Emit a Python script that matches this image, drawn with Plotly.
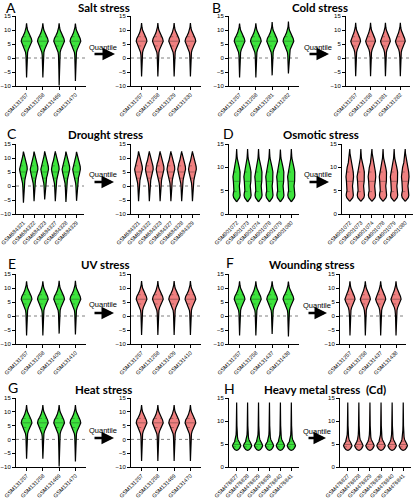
import numpy as np
import plotly.graph_objects as go

# ------------------------------------------------------------------ data
letters = ["A", "B", "C", "D", "E", "F", "G", "H"]
titles = ["Salt stress", "Cold stress", "Drought stress", "Osmotic stress",
          "UV stress", "Wounding stress", "Heat stress", "Heavy metal stress  (Cd)"]

samples_raw_A = ["GSM131257", "GSM131258", "GSM131469", "GSM131470"]
samples_qn_A = ["GSM131257", "GSM131258", "GSM131329", "GSM131330"]
samples_B = ["GSM131257", "GSM131258", "GSM131281", "GSM131282"]
samples_C = ["GSM684321", "GSM684322", "GSM684323", "GSM684327", "GSM684328", "GSM684329"]
samples_D = ["GSM901072", "GSM901073", "GSM901074", "GSM901078", "GSM901079", "GSM901080"]
samples_E = ["GSM131257", "GSM131258", "GSM131409", "GSM131410"]
samples_F = ["GSM131257", "GSM131258", "GSM131437", "GSM131438"]
samples_G = ["GSM131257", "GSM131258", "GSM131469", "GSM131470"]
samples_H = ["GSM476827", "GSM476828", "GSM476829", "GSM476839", "GSM476840", "GSM476841"]

# per-sample minimum / maximum log2 expression (raw, then after quantile normalisation)
min_raw_A = [-7.0, -7.0, -9.8, -8.2]
max_raw_A = [12.4, 12.4, 12.4, 12.3]
min_qn_A = [-6.6, -6.6, -6.6, -6.6]
max_qn_A = [12.5, 12.5, 12.5, 12.5]

min_raw_B = [-7.0, -7.0, -6.2, -5.5]
max_raw_B = [12.3, 12.4, 12.8, 13.0]
min_qn_B = [-6.5, -6.5, -6.5, -6.5]
max_qn_B = [12.6, 12.6, 12.6, 12.6]

min_raw_C = [-6.0, -5.4, -4.8, -5.4, -5.7, -5.3]
max_raw_C = [12.3, 12.3, 12.4, 12.4, 12.3, 12.2]
min_qn_C = [-5.4, -5.4, -5.4, -5.4, -5.4, -5.4]
max_qn_C = [12.4, 12.4, 12.4, 12.4, 12.4, 12.4]

min_raw_D = [2.6, 2.6, 2.6, 2.6, 2.6, 2.6]
max_raw_D = [13.9, 13.9, 13.9, 13.9, 13.8, 13.9]
min_qn_D = [2.7, 2.7, 2.7, 2.7, 2.7, 2.7]
max_qn_D = [13.9, 13.9, 13.9, 13.9, 13.9, 13.9]

min_raw_E = [-7.0, -7.0, -6.3, -6.6]
max_raw_E = [12.4, 12.4, 12.6, 12.6]
min_qn_E = [-6.8, -6.8, -6.8, -6.8]
max_qn_E = [12.5, 12.5, 12.5, 12.5]

min_raw_F = [-7.0, -7.0, -6.4, -7.3]
max_raw_F = [12.4, 12.4, 12.4, 12.3]
min_qn_F = [-7.0, -7.0, -7.0, -7.0]
max_qn_F = [12.4, 12.4, 12.4, 12.4]

min_raw_G = [-7.0, -7.0, -9.8, -8.0]
max_raw_G = [12.4, 12.4, 12.4, 12.4]
min_qn_G = [-7.8, -7.8, -7.8, -7.8]
max_qn_G = [12.4, 12.4, 12.4, 12.4]

min_raw_H = [3.6, 3.6, 3.6, 3.6, 3.6, 3.6]
max_raw_H = [14.0, 14.0, 14.0, 14.0, 14.0, 14.0]
min_qn_H = [3.6, 3.6, 3.6, 3.6, 3.6, 3.6]
max_qn_H = [14.0, 14.0, 14.0, 14.0, 14.0, 14.0]

# density profiles (log2 level, relative density)
prof_y_std = [-4, -2, 0, 1, 2, 3, 4, 5, 6, 7, 8, 9, 10, 11, 12]
prof_w_std = [0.05, 0.07, 0.09, 0.12, 0.19, 0.32, 0.55, 0.82, 1.0, 0.88, 0.6, 0.36, 0.18, 0.08, 0.03]
prof_y_C = [-4, -2, -1, 0, 1, 2, 3, 4, 5, 6, 7, 8, 9, 10, 11, 12]
prof_w_C = [0.06, 0.1, 0.13, 0.17, 0.24, 0.36, 0.5, 0.7, 0.9, 1.0, 0.95, 0.75, 0.5, 0.28, 0.12, 0.04]
prof_y_D = [3, 3.5, 4, 4.5, 5, 5.5, 6, 7, 8, 9, 10, 11, 12, 13]
prof_w_D = [0.35, 0.8, 0.95, 0.88, 0.74, 0.68, 0.72, 0.88, 1.0, 0.92, 0.7, 0.38, 0.14, 0.06]
prof_y_H = [3.8, 4.2, 4.6, 5.0, 5.5, 6, 6.5, 7, 8, 9, 10, 11, 12, 13]
prof_w_H = [0.45, 0.8, 1.0, 0.85, 0.5, 0.3, 0.2, 0.14, 0.09, 0.06, 0.05, 0.04, 0.035, 0.03]

# median and quartiles (log2)
quart_std = [4.3, 6.0, 7.6]
quart_C = [2.8, 5.0, 7.2]
quart_D = [4.8, 7.0, 9.0]
quart_H = [4.4, 4.9, 5.6]

yticks_neg = [-10, -5, 0, 5, 10, 15]
yticks_pos = [0, 5, 10, 15]

# ------------------------------------------------------------------ layout geometry (px)
W, H = 416, 500
GREEN = "#3de43d"
PINK = "#f08080"

panels = [
    (samples_raw_A, samples_qn_A, min_raw_A, max_raw_A, min_qn_A, max_qn_A, prof_y_std, prof_w_std, quart_std, [-10, 15], yticks_neg, 0.33),
    (samples_B, samples_B, min_raw_B, max_raw_B, min_qn_B, max_qn_B, prof_y_std, prof_w_std, quart_std, [-10, 15], yticks_neg, 0.33),
    (samples_C, samples_C, min_raw_C, max_raw_C, min_qn_C, max_qn_C, prof_y_C, prof_w_C, quart_C, [-10, 15], yticks_neg, 0.36),
    (samples_D, samples_D, min_raw_D, max_raw_D, min_qn_D, max_qn_D, prof_y_D, prof_w_D, quart_D, [0, 15], yticks_pos, 0.34),
    (samples_E, samples_E, min_raw_E, max_raw_E, min_qn_E, max_qn_E, prof_y_std, prof_w_std, quart_std, [-10, 15], yticks_neg, 0.33),
    (samples_F, samples_F, min_raw_F, max_raw_F, min_qn_F, max_qn_F, prof_y_std, prof_w_std, quart_std, [-10, 15], yticks_neg, 0.33),
    (samples_G, samples_G, min_raw_G, max_raw_G, min_qn_G, max_qn_G, prof_y_std, prof_w_std, quart_std, [-10, 15], yticks_neg, 0.33),
    (samples_H, samples_H, min_raw_H, max_raw_H, min_qn_H, max_qn_H, prof_y_H, prof_w_H, quart_H, [0, 15], yticks_pos, 0.38),
]

geo = [
    dict(xl=16, xr=131, wl=70, wr=70, yt=16, yb=86, tt=(104, 7), lt=(4, 7), qt=(103, 48), ar=(93, 115, 54)),
    dict(xl=229, xr=346, wl=70, wr=64, yt=16, yb=86, tt=(320, 7), lt=(210, 7), qt=(318, 48), ar=(308, 329, 54)),
    dict(xl=16, xr=131, wl=68, wr=69, yt=144, yb=214, tt=(105, 134), lt=(5, 133), qt=(103, 174), ar=(93, 114, 182)),
    dict(xl=229, xr=342, wl=70, wr=71, yt=144, yb=214, tt=(321, 134), lt=(221, 133), qt=(318, 174), ar=(308, 329, 182)),
    dict(xl=16, xr=131, wl=70, wr=70, yt=274, yb=344, tt=(105, 264), lt=(6, 263), qt=(103, 304), ar=(93, 114, 313)),
    dict(xl=229, xr=340, wl=70, wr=66, yt=274, yb=344, tt=(311, 264), lt=(224, 262), qt=(317, 305), ar=(307, 327, 313)),
    dict(xl=16, xr=131, wl=70, wr=70, yt=398, yb=467, tt=(103, 389), lt=(6, 387), qt=(103, 430), ar=(93, 114, 438)),
    dict(xl=229, xr=340, wl=70, wr=71, yt=398, yb=467, tt=(325, 389), lt=(222, 388), qt=(317, 431), ar=(307, 326, 438)),
]

fig = go.Figure()
layout = dict(width=W, height=H, autosize=False, margin=dict(l=0, r=0, t=0, b=0, pad=0, autoexpand=False),
              paper_bgcolor="white", plot_bgcolor="white", showlegend=False)
shapes = []
annotations = []
XTICKFONT = dict(family="Liberation Sans", size=5.5, color="black")
YTICKFONT = dict(family="Liberation Sans", size=6, color="black")

k = 0
for p, (pan, g) in enumerate(zip(panels, geo)):
    s_raw, s_qn, mnr, mxr, mnq, mxq, py, pw, quart, yr, yt, hw = pan
    for side in range(2):
        k += 1
        xn = "x" if k == 1 else f"x{k}"
        yn = "y" if k == 1 else f"y{k}"
        xkey = "xaxis" if k == 1 else f"xaxis{k}"
        ykey = "yaxis" if k == 1 else f"yaxis{k}"
        samples = s_raw if side == 0 else s_qn
        mins = mnr if side == 0 else mnq
        maxs = mxr if side == 0 else mxq
        color = GREEN if side == 0 else PINK
        n = len(samples)
        x0px = g["xl"] if side == 0 else g["xr"]
        wpx = g["wl"] if side == 0 else g["wr"]
        pad = 0.65 if n == 4 else 0.7
        layout[xkey] = dict(domain=[x0px / W, (x0px + wpx) / W], anchor=yn, automargin=False,
                            range=[-pad, n - 1 + pad], tickvals=list(range(n)), ticktext=samples,
                            tickangle=-45, tickfont=XTICKFONT, showline=True, linecolor="black",
                            linewidth=1, ticks="outside", ticklen=2.5, tickwidth=1, tickcolor="black",
                            showgrid=False, zeroline=False, fixedrange=True,
                            ticklabeloverflow="allow")
        layout[ykey] = dict(domain=[1 - g["yb"] / H, 1 - g["yt"] / H], anchor=xn, automargin=False,
                            range=yr, tickvals=yt, tickfont=YTICKFONT, showline=True,
                            linecolor="black", linewidth=1, ticks="outside", ticklen=3,
                            tickwidth=1, tickcolor="black", showgrid=False, zeroline=False,
                            fixedrange=True, ticklabeloverflow="allow")
        if yr[0] < 0:
            shapes.append(dict(type="line", xref=f"{xn} domain", yref=yn, x0=0, x1=1, y0=0, y1=0,
                               line=dict(color="#808080", width=1, dash="dot"), layer="below"))
        for i in range(n):
            ys = np.array([mins[i]] + list(py) + [maxs[i]], dtype=float)
            ws = np.array([0.0] + list(pw) + [0.0]) * hw
            xs = np.concatenate([i + ws, (i - ws)[::-1]])
            yy = np.concatenate([ys, ys[::-1]])
            fig.add_trace(go.Scatter(x=xs, y=yy, mode="lines", fill="toself", fillcolor=color,
                                     line=dict(color="black", width=1.2), hoverinfo="skip",
                                     xaxis=xn, yaxis=yn))
            for j, q in enumerate(quart):
                qw = float(np.interp(q, ys, ws))
                fig.add_trace(go.Scatter(x=[i - qw, i + qw], y=[q, q], mode="lines",
                                         line=dict(color="rgba(30,30,30,0.5)", width=0.7,
                                                   dash="solid" if j == 1 else "dot"),
                                         hoverinfo="skip", xaxis=xn, yaxis=yn))
    annotations.append(dict(text=titles[p], x=g["tt"][0] / W, y=1 - g["tt"][1] / H, xref="paper",
                            yref="paper", showarrow=False, xanchor="center", yanchor="middle",
                            font=dict(family="Lato", size=11.5, color="black", weight="bold")))
    annotations.append(dict(text=letters[p], x=g["lt"][0] / W, y=1 - g["lt"][1] / H, xref="paper",
                            yref="paper", showarrow=False, xanchor="left", yanchor="middle",
                            font=dict(family="Lato", size=14, color="black")))
    annotations.append(dict(text="Quantile", x=g["qt"][0] / W, y=1 - g["qt"][1] / H, xref="paper",
                            yref="paper", showarrow=False, xanchor="center", yanchor="middle",
                            font=dict(family="Liberation Sans", size=7.5, color="black")))
    a0, a1, ay = g["ar"]
    annotations.append(dict(text="", x=a1 / W, y=1 - ay / H, xref="paper", yref="paper",
                            showarrow=True, ax=a0 - a1, ay=0, arrowhead=2, arrowsize=1,
                            arrowwidth=2.5, arrowcolor="black"))

layout["shapes"] = shapes
layout["annotations"] = annotations
fig.update_layout(**layout)
fig.write_html("out.html", config={"displayModeBar": False},
               post_script="document.body.style.margin='0';document.body.style.padding='0';")
